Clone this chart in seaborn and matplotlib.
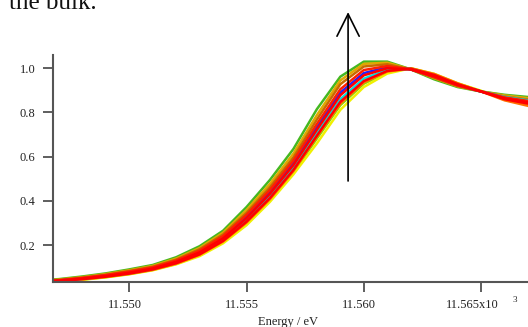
import matplotlib
matplotlib.use("Agg")
import matplotlib.pyplot as plt
from matplotlib.transforms import ScaledTranslation
import seaborn as sns
import pandas as pd

# energy grid in eV
energy = [11546, 11547, 11548, 11549, 11550, 11551, 11552, 11553, 11554, 11555, 11556, 11557,
          11558, 11559, 11560, 11561, 11562, 11563, 11564, 11565, 11566, 11567, 11568]

# normalized absorption, one list per scan (earliest edge first)
scan_01 = [0.040, 0.046, 0.058, 0.072, 0.090, 0.110, 0.145, 0.195, 0.265, 0.372, 0.495, 0.635,
           0.815, 0.962, 1.030, 1.030, 0.995, 0.950, 0.915, 0.895, 0.880, 0.870, 0.862]
scan_02 = [0.038, 0.044, 0.055, 0.069, 0.086, 0.106, 0.139, 0.187, 0.256, 0.358, 0.477, 0.614,
           0.788, 0.945, 1.020, 1.025, 0.995, 0.955, 0.918, 0.895, 0.877, 0.865, 0.857]
scan_03 = [0.037, 0.042, 0.053, 0.066, 0.083, 0.102, 0.134, 0.181, 0.248, 0.346, 0.462, 0.597,
           0.768, 0.928, 1.008, 1.018, 0.995, 0.958, 0.920, 0.895, 0.872, 0.858, 0.850]
scan_04 = [0.036, 0.041, 0.051, 0.064, 0.080, 0.099, 0.130, 0.175, 0.241, 0.337, 0.450, 0.583,
           0.748, 0.905, 0.992, 1.010, 0.995, 0.960, 0.922, 0.895, 0.868, 0.852, 0.845]
scan_05 = [0.035, 0.040, 0.049, 0.062, 0.077, 0.096, 0.126, 0.170, 0.235, 0.328, 0.440, 0.572,
           0.733, 0.890, 0.978, 1.005, 0.995, 0.962, 0.924, 0.895, 0.866, 0.848, 0.840]
scan_06 = [0.035, 0.039, 0.048, 0.060, 0.075, 0.094, 0.124, 0.167, 0.230, 0.321, 0.432, 0.562,
           0.722, 0.878, 0.968, 1.000, 0.995, 0.964, 0.925, 0.895, 0.864, 0.846, 0.838]
scan_07 = [0.034, 0.038, 0.047, 0.059, 0.073, 0.092, 0.121, 0.163, 0.225, 0.313, 0.422, 0.550,
           0.707, 0.860, 0.953, 0.993, 0.997, 0.968, 0.926, 0.894, 0.870, 0.855, 0.848]
scan_08 = [0.034, 0.037, 0.046, 0.057, 0.071, 0.090, 0.118, 0.158, 0.219, 0.306, 0.413, 0.540,
           0.695, 0.848, 0.942, 0.988, 0.998, 0.970, 0.928, 0.895, 0.860, 0.840, 0.832]
scan_09 = [0.033, 0.036, 0.044, 0.055, 0.069, 0.088, 0.115, 0.154, 0.213, 0.298, 0.404, 0.530,
           0.682, 0.833, 0.930, 0.982, 1.000, 0.972, 0.930, 0.897, 0.862, 0.840, 0.832]
scan_10 = [0.033, 0.036, 0.043, 0.054, 0.068, 0.086, 0.113, 0.150, 0.208, 0.290, 0.396, 0.520,
           0.660, 0.812, 0.915, 0.976, 1.000, 0.975, 0.932, 0.898, 0.858, 0.835, 0.828]
scan_11 = [0.034, 0.037, 0.045, 0.056, 0.070, 0.088, 0.116, 0.156, 0.216, 0.302, 0.408, 0.535,
           0.690, 0.840, 0.936, 0.985, 1.000, 0.974, 0.932, 0.895, 0.855, 0.830, 0.822]

scan_colors = {"01": "#44b820", "02": "#e0a800", "03": "#c86a00", "04": "#ff2000",
               "05": "#2020ff", "06": "#ff0000", "07": "#00e0e0", "08": "#ff0000",
               "09": "#80e000", "10": "#f0f000", "11": "#ff7000"}
scans = {"01": scan_01, "02": scan_02, "03": scan_03, "04": scan_04, "05": scan_05,
         "06": scan_06, "07": scan_07, "08": scan_08, "09": scan_09, "10": scan_10,
         "11": scan_11}
# reds go on top, like in the original
draw_order = ["01", "02", "03", "09", "10", "11", "07", "05", "04", "08", "06"]

x_ticks = [11550, 11555, 11560, 11565]
x_ticklabels = ["11.550", "11.555", "11.560", "11.565x10"]
y_ticks = [0.2, 0.4, 0.6, 0.8, 1.0]
y_ticklabels = ["0.2", "0.4", "0.6", "0.8", "1.0"]

rows = []
for name in draw_order:
    for e, v in zip(energy, scans[name]):
        rows.append([e, v, name])
df = pd.DataFrame(rows, columns=["energy", "mu", "scan"])

sns.set_theme(style="ticks")
plt.rcParams["font.family"] = ["Liberation Serif", "DejaVu Serif"]

fig = plt.figure(figsize=(5.28, 3.27), dpi=100)
ax = fig.add_axes([53 / 528, 45 / 327, 475 / 528, 227 / 327])

sns.lineplot(data=df, x="energy", y="mu", hue="scan", hue_order=draw_order,
             palette=scan_colors, legend=False, linewidth=1.8, ax=ax, sort=False)

ax.set_xlim(11546.75, 11567.0)
ax.set_ylim(0.033, 1.06)

ax.set_xticks(x_ticks)
ax.set_xticklabels(x_ticklabels)
ax.set_yticks(y_ticks)
ax.set_yticklabels(y_ticklabels)

for sp in ["top", "right"]:
    ax.spines[sp].set_visible(False)
for sp in ["left", "bottom"]:
    ax.spines[sp].set_color("#555555")
    ax.spines[sp].set_linewidth(1.5)

ax.tick_params(axis="both", direction="out", length=7.5, width=1.1, color="#333333",
               labelsize=9, labelcolor="#222222", pad=5)

# Igor style labels sit a little left of their ticks
for k, lab in enumerate(ax.get_xticklabels()):
    dx = -9.0 if k == len(x_ticks) - 1 else -4.5
    lab.set_transform(lab.get_transform() + ScaledTranslation(dx / 100, 0, fig.dpi_scale_trans))

ax.set_ylabel("")
ax.set_xlabel("Energy / eV", fontsize=9, color="#222222")
ax.xaxis.set_label_coords(0.495, -0.176)
ax.xaxis.label.set_va("center")

fig.text(515 / 528, 1 - 300 / 327, "3", fontsize=6.5, color="#222222", ha="center", va="center")

fig.text(97 / 528, 1 - 9 / 327, "the bulk.", fontsize=18, color="#111111",
         ha="right", va="baseline")

ax.annotate("", xy=(11559.33, 1.254), xytext=(11559.33, 0.49),
            xycoords="data", textcoords="data", annotation_clip=False,
            arrowprops=dict(arrowstyle="->,head_length=1.6,head_width=0.8", mutation_scale=10,
                            lw=1.2, color="black", shrinkA=0, shrinkB=0))

fig.savefig("out.png", dpi=100)
